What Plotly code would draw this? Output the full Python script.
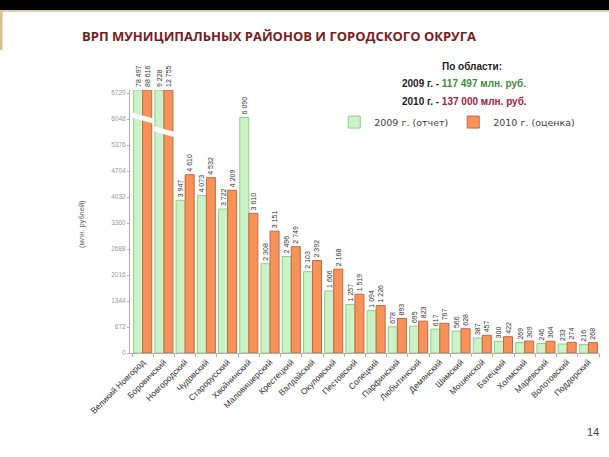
import plotly.graph_objects as go

categories = ["Великий Новгород", "Боровичский", "Новгородский", "Чудовский", "Старорусский",
              "Хвойнинский", "Маловишерский", "Крестецкий", "Валдайский", "Окуловский",
              "Пестовский", "Солецкий", "Парфинский", "Любытинский", "Демянский", "Шимский",
              "Мошенской", "Батецкий", "Холмский", "Маревский", "Волотовский", "Поддорский"]
v2009 = [78497, 9228, 3947, 4073, 3722, 6090, 2308, 2496, 2103, 1606, 1257, 1094,
         678, 695, 617, 566, 387, 300, 269, 246, 233, 216]
v2010 = [88616, 12755, 4610, 4532, 4209, 3610, 3151, 2749, 2392, 2168, 1519, 1226,
         893, 823, 767, 628, 457, 422, 309, 304, 274, 268]
y_max = 6800
y_ticks = [0, 672, 1344, 2016, 2688, 3360, 4032, 4704, 5376, 6048, 6720]
y_ticktext = [str(t) for t in y_ticks]


def fmt(v):
    return f"{v:,}".replace(",", " ")


def cap(vals):
    return [min(v, y_max) for v in vals]


fig = go.Figure()
fig.add_trace(go.Bar(
    x=categories, y=cap(v2009), name="2009 г. (отчет)",
    marker=dict(color="#ccf3c8", line=dict(color="#8ccf8a", width=1)),
    text=[fmt(v) for v in v2009], textposition="outside", textangle=-90,
    textfont=dict(size=7, color="#333333", family="Liberation Sans"),
    cliponaxis=False, constraintext="none",
))
fig.add_trace(go.Bar(
    x=categories, y=cap(v2010), name="2010 г. (оценка)",
    marker=dict(color="#f7935a", line=dict(color="#c8683a", width=1)),
    text=[fmt(v) for v in v2010], textposition="outside", textangle=-90,
    textfont=dict(size=7, color="#333333", family="Liberation Sans"),
    cliponaxis=False, constraintext="none",
))

# break marks on the two out-of-scale groups
fig.add_shape(type="line", xref="x", yref="y", x0=-0.48, x1=0.48, y0=6150, y1=6000,
              line=dict(color="white", width=5), layer="above")
fig.add_shape(type="line", xref="x", yref="y", x0=0.52, x1=1.48, y0=5800, y1=5650,
              line=dict(color="white", width=5), layer="above")

# top black band, tan rule and left tan bar
fig.add_shape(type="rect", xref="paper", yref="paper", x0=-0.3, x1=1.05, y0=1.304, y1=1.40,
              fillcolor="black", line=dict(width=0), layer="above")
fig.add_shape(type="line", xref="paper", yref="paper", x0=-0.3, x1=1.05, y0=1.300, y1=1.300,
              line=dict(color="#d6bf8c", width=1.5), layer="above")
fig.add_shape(type="line", xref="paper", yref="paper", x0=-0.2745, x1=-0.2745, y0=1.300, y1=1.152,
              line=dict(color="#d6bf8c", width=2.5), layer="above")

annotations = [
    dict(text="<b>ВРП МУНИЦИПАЛЬНЫХ РАЙОНОВ И ГОРОДСКОГО ОКРУГА</b>", x=-0.107, y=1.205,
         xanchor="left", yanchor="middle", font=dict(size=13, color="#7a1c1c", family="Open Sans")),
    dict(text="<b>По области:</b>", x=0.729, y=1.091, xanchor="center", yanchor="middle",
         font=dict(size=10, color="#222222", family="Liberation Sans")),
    dict(text="<b>2009 г. - <span style='color:#3d8c3d'>117 497 млн. руб.</span></b>", x=0.713, y=1.023,
         xanchor="center", yanchor="middle", font=dict(size=10, color="#222222", family="Liberation Sans")),
    dict(text="<b>2010 г. - <span style='color:#a8203a'>137 000 млн. руб.</span></b>", x=0.713, y=0.955,
         xanchor="center", yanchor="middle", font=dict(size=10, color="#222222", family="Liberation Sans")),
    dict(text="(млн. рублей)", x=-0.105, y=0.49, textangle=-90, xanchor="center", yanchor="middle",
         font=dict(size=7.5, color="#666666", family="Liberation Sans")),
    dict(text="14", x=1.005, y=-0.30, xanchor="right", yanchor="middle",
         font=dict(size=11, color="#444444", family="Liberation Sans")),
]
for a in annotations:
    a.update(xref="paper", yref="paper", showarrow=False)

fig.update_layout(
    width=609, height=457,
    margin=dict(l=130, r=10, t=90, b=104, autoexpand=False),
    paper_bgcolor="white", plot_bgcolor="white",
    barmode="group", bargap=0.15, bargroupgap=0.0,
    annotations=annotations,
    showlegend=True,
    legend=dict(orientation="h", x=0.96, y=0.878, xanchor="right", yanchor="middle",
                font=dict(size=9.5, color="#444444", family="DejaVu Sans"),
                itemwidth=30, bgcolor="rgba(0,0,0,0)", traceorder="normal"),
    font=dict(family="Liberation Sans"),
)
fig.update_xaxes(
    tickangle=-45, tickfont=dict(size=8.5, color="#333333"),
    showline=True, linecolor="#b0b0b0", linewidth=1,
    ticks="outside", ticklen=3, tickcolor="#b0b0b0", tickson="boundaries",
    showgrid=False, automargin=False,
)
fig.update_yaxes(
    range=[0, y_max], tickvals=y_ticks, ticktext=y_ticktext,
    tickfont=dict(size=6.5, color="#999999"),
    showline=True, linecolor="#b0b0b0", linewidth=1,
    ticks="outside", ticklen=2, tickcolor="#b0b0b0",
    showgrid=False, zeroline=False, automargin=False,
)

fig.write_html("out.html")
